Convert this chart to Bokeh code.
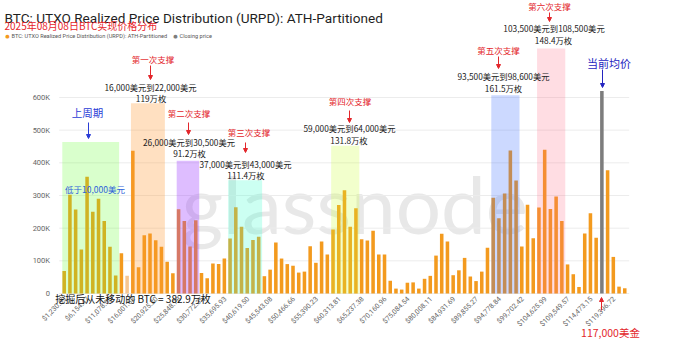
import math
from bokeh.plotting import figure
from bokeh.models import Range1d, Label, Arrow, NormalHead
from bokeh.core.properties import value
from bokeh.embed import file_html
from bokeh.resources import INLINE

# ---------------- data ----------------
urpd_k = [69, 302, 257, 135, 357, 250, 290, 222, 143, 55,
          123, 54, 437, 80, 178, 184, 163, 143, 97, 62,
          258, 222, 144, 224, 63, 47, 92, 90, 107, 168,
          264, 204, 139, 164, 174, 53, 73, 156, 107, 90,
          85, 64, 67, 145, 94, 159, 119, 196, 271, 316,
          204, 261, 166, 162, 192, 119, 119, 39, 15, 12,
          33, 34, 15, 45, 54, 116, 183, 159, 56, 71,
          109, 52, 38, 67, 140, 293, 230, 306, 438, 346,
          144, 272, 169, 263, 440, 259, 297, 222, 89, 59,
          20, 184, 246, 171, 0, 377, 112, 21, 16]
bucket_idx = list(range(len(urpd_k)))
closing_idx = [94]
closing_k = [620]

xtick_pos = list(range(0, 97, 4))
xtick_labels = ["$1,230.89", "$6,154.47", "$11,078.05", "$16,001.62", "$20,925.20",
                "$25,848.78", "$30,772.35", "$35,695.93", "$40,619.50", "$45,543.08",
                "$50,466.66", "$55,390.23", "$60,313.81", "$65,237.38", "$70,160.96",
                "$75,084.54", "$80,008.11", "$84,931.69", "$89,855.27", "$94,778.84",
                "$99,702.42", "$104,625.99", "$109,549.57", "$114,473.15", "$119,396.72"]
ytick_vals = [0, 100000, 200000, 300000, 400000, 500000, 600000]
ytick_labels = ["0", "100K", "200K", "300K", "400K", "500K", "600K"]

zone_first = [0, 12, 20, 29, 47, 75, 83]
zone_last = [9, 17, 23, 34, 51, 79, 87]
zone_top_k = [464, 582, 406, 347, 452, 607, 750]
zone_colors = ["#66ff33", "#ff9933", "#9933ff", "#33ffcc", "#ccff33", "#3366ff", "#ff6680"]
zone_alpha = [0.25, 0.3, 0.32, 0.25, 0.25, 0.25, 0.22]

# ---------------- layout helpers (reference pixel -> data) ----------------
OX0, PXB, OY0, PXV = 71.7, 5.72, 301.0, 0.0003267
def X(ox):
    return (ox - OX0) / PXB
def Y(oy):
    return (OY0 - oy) / PXV

W, H = 662, 340
p = figure(width=W, height=H, output_backend="svg", toolbar_location=None,
           x_axis_location=None, y_axis_location=None,
           x_range=Range1d(X(8), X(8 + W)), y_range=Range1d(Y(8 + H), Y(8)),
           min_border=0)
p.outline_line_color = None
p.background_fill_color = "white"
p.grid.grid_line_color = None

# watermark
p.text(x=[X(189)], y=[Y(210)], text=["glassnode"], text_font=value("Lato"),
       text_font_size="80px", text_color="#e8e8e8", text_baseline="alphabetic")

# grid lines and y axis labels
p.segment(x0=X(66.7), x1=X(636.7), y0=ytick_vals, y1=ytick_vals,
          line_color="#ececec", line_width=1)
p.text(x=X(57.5), y=ytick_vals, text=ytick_labels, text_font=value("Roboto"),
       text_font_size="7.5px", text_color="#666666", text_align="right", text_baseline="middle")

# bars
bar_colors = ["#f39a1e"] * len(urpd_k)
bar_colors[11] = "#f6c690"
p.vbar(x=bucket_idx, top=[v * 1000 for v in urpd_k], width=0.62, color=bar_colors, line_color=None)
p.vbar(x=closing_idx, top=[v * 1000 for v in closing_k], width=0.62, color="#7d7d7d", line_color=None)

# support zones
p.quad(left=[f - 0.33 for f in zone_first], right=[l + 0.6 for l in zone_last],
       bottom=0, top=[t * 1000 for t in zone_top_k],
       fill_color=zone_colors, fill_alpha=zone_alpha, line_color=None)

# x axis labels (rotated)
p.text(x=[t + 0.2 for t in xtick_pos], y=Y(305.5), text=xtick_labels, angle=math.pi / 4,
       text_font=value("Roboto"), text_font_size="7px", text_color="#666666",
       text_align="right", text_baseline="middle")

CJK = "Noto Sans CJK SC"
def lab(text, ox, oy, size, color, font=CJK, align="center", baseline="middle"):
    p.add_layout(Label(x=X(ox), y=Y(oy), text=text, text_font=font, text_font_size=size,
                       text_color=color, text_align=align, text_baseline=baseline))

def arr(ox, oy0, oy1, color):
    p.add_layout(Arrow(end=NormalHead(size=4, fill_color=color, line_color=color),
                       x_start=X(ox), y_start=Y(oy0), x_end=X(ox), y_end=Y(oy1),
                       line_color=color, line_width=1))

# title & legend
lab("BTC: UTXO Realized Price Distribution (URPD): ATH-Partitioned", 12, 25, "13.6px", "#1f1f1f",
    font="Roboto", align="left", baseline="alphabetic")
lab("2025年08月08日BTC实现价格分布", 12, 33, "10px", "#e8262b", align="left")
lab("●", 15, 43.5, "5px", "#f39a1e", font="DejaVu Sans")
lab("BTC: UTXO Realized Price Distribution (URPD): ATH-Partitioned", 19, 43.5, "5.6px", "#555555",
    font="Roboto", align="left")
lab("●", 183, 43.5, "5px", "#7d7d7d", font="DejaVu Sans")
lab("Closing price", 187, 43.5, "5.6px", "#555555", font="Roboto", align="left")

RED = "#e3262b"
BLK = "#222222"
supports = [("第一次支撑", 160.5, 66), ("第二次支撑", 196.5, 120.5), ("第三次支撑", 256.5, 139.5),
            ("第四次支撑", 357.5, 108.5), ("第五次支撑", 506, 57), ("第六次支撑", 557, 13.5)]
for t, ox, oy in supports:
    lab(t, ox, oy, "8.5px", RED)
ranges = [("16,000美元到22,000美元", 158, 94.5), ("26,000美元到30,500美元", 196.5, 149.5),
          ("37,000美元到43,000美元", 253, 171), ("59,000美元到64,000美元", 357, 135),
          ("93,500美元到98,600美元", 511, 83.5), ("103,500美元到108,500美元", 561.5, 35.5)]
for t, ox, oy in ranges:
    lab(t, ox, oy, "8.3px", BLK)
amounts = [("119万枚", 158.5, 105.5), ("91.2万枚", 197, 160.5), ("111.4万枚", 253.5, 182),
           ("131.8万枚", 356.5, 147), ("161.5万枚", 511, 95), ("148.4万枚", 561, 47)]
for t, ox, oy in amounts:
    lab(t, ox, oy, "8.3px", BLK)

lab("上周期", 95, 120, "10.5px", "#2a3cd6")
lab("低于10,000美元", 102.5, 196.5, "8.5px", "#2e63d9")
lab("当前均价", 616.5, 70.5, "11px", "#2424c0")
lab("挖掘后从未移动的 BTC = 382.9万枚", 140.5, 305.5, "10px", "#111111")
lab("117,000美金", 618, 340, "10.5px", RED)

arr(96, 130, 146, "#2a3cd6")
arr(158, 73, 87, RED)
arr(196, 130, 142, RED)
arr(253, 150, 160, RED)
arr(357, 118, 130, RED)
arr(506, 64, 76, RED)
arr(557, 20, 29, RED)
arr(610, 77, 95, "#2424c0")
arr(609, 318, 305, RED)

open("out.html", "w").write(file_html(p, INLINE))
